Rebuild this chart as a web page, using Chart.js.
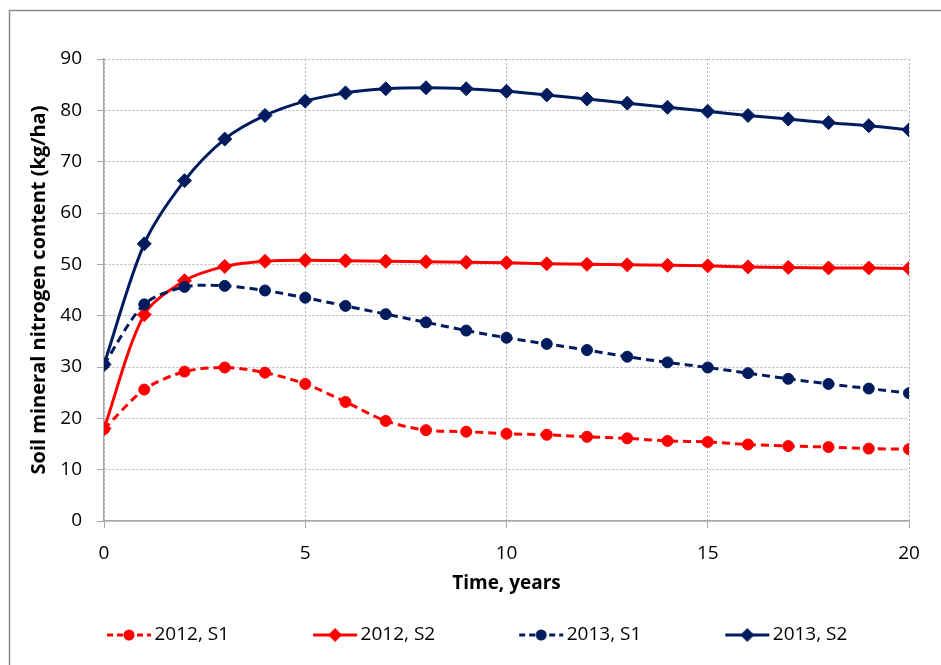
<!DOCTYPE html>
<html>
<head>
<meta charset="utf-8">
<script src="https://cdn.jsdelivr.net/npm/chart.js@4"></script>
<style>
  html, body { margin: 0; padding: 0; background: #fff; }
  canvas { display: block; }
</style>
</head>
<body>
<canvas id="myChart" width="941" height="665"></canvas>
<script>
const years = [0, 1, 2, 3, 4, 5, 6, 7, 8, 9, 10, 11, 12, 13, 14, 15, 16, 17, 18, 19, 20];
const s2012S1 = [17.9, 25.6, 29.1, 29.9, 28.9, 26.7, 23.2, 19.5, 17.7, 17.4, 17.0, 16.8, 16.4, 16.1, 15.6, 15.4, 14.9, 14.6, 14.4, 14.1, 14.0];
const s2012S2 = [18.0, 40.2, 46.8, 49.6, 50.6, 50.8, 50.7, 50.6, 50.5, 50.4, 50.3, 50.1, 50.0, 49.9, 49.8, 49.7, 49.5, 49.4, 49.3, 49.3, 49.2];
const s2013S1 = [30.5, 42.2, 45.6, 45.8, 44.9, 43.5, 41.9, 40.3, 38.7, 37.1, 35.7, 34.5, 33.3, 32.0, 30.9, 29.9, 28.8, 27.7, 26.7, 25.8, 24.9];
const s2013S2 = [30.5, 54.0, 66.3, 74.4, 79.0, 81.8, 83.4, 84.2, 84.4, 84.2, 83.7, 83.0, 82.2, 81.4, 80.6, 79.8, 79.0, 78.3, 77.6, 77.0, 76.2];
const seriesNames = ["2012, S1", "2012, S2", "2013, S1", "2013, S2"];
const xTicks = [0, 5, 10, 15, 20];
const yTicks = [0, 10, 20, 30, 40, 50, 60, 70, 80, 90];

const RED = "#ff0000";
const NAVY = "#001c5e";
const DASH = [8, 5];

// legend symbol: line with the marker in the middle, sitting at the right of a wide icon canvas
// (the empty left part gives the gap between legend entries)
function legendIcon(color, dashed, marker) {
  const c = document.createElement("canvas");
  c.width = 126;
  c.height = 16;
  const g = c.getContext("2d");
  const x0 = 80;
  g.strokeStyle = color;
  g.fillStyle = color;
  g.lineWidth = 3;
  g.setLineDash(dashed ? [6, 4] : []);
  g.beginPath();
  g.moveTo(x0 + 1, 8);
  g.lineTo(x0 + 45, 8);
  g.stroke();
  g.beginPath();
  if (marker === "circle") {
    g.arc(x0 + 23, 8, 5.5, 0, Math.PI * 2);
  } else {
    g.moveTo(x0 + 23, 1);
    g.lineTo(x0 + 30, 8);
    g.lineTo(x0 + 23, 15);
    g.lineTo(x0 + 16, 8);
    g.closePath();
  }
  g.fill();
  return c;
}

function series(name, values, color, dashed, marker) {
  return {
    label: name,
    data: years.map((x, i) => ({ x: x, y: values[i] })),
    borderColor: color,
    backgroundColor: color,
    borderWidth: 3,
    borderDash: dashed ? DASH : [],
    pointStyle: marker,
    pointRadius: marker === "circle" ? 5.5 : 7,
    pointBorderWidth: 1,
    pointBorderColor: color,
    pointBackgroundColor: color,
    tension: 0.3,
    fill: false,
    legendIcon: legendIcon(color, dashed, marker),
  };
}

// outer frame of the picture
const framePlugin = {
  id: "frame",
  beforeDraw(chart) {
    const c = chart.ctx;
    c.save();
    c.fillStyle = "#fff";
    c.fillRect(0, 0, chart.width, chart.height);
    c.strokeStyle = "#8c8c8c";
    c.lineWidth = 1.5;
    c.strokeRect(9.5, 10.5, 1000, 1000);
    c.restore();
  },
};

// later series drawn on top like in Excel, legend kept in original order
const datasets = [
  series(seriesNames[3], s2013S2, NAVY, false, "rectRot"),
  series(seriesNames[2], s2013S1, NAVY, true, "circle"),
  series(seriesNames[1], s2012S2, RED, false, "rectRot"),
  series(seriesNames[0], s2012S1, RED, true, "circle"),
];

const font = "'Open Sans', 'DejaVu Sans', sans-serif";

const ctx = document.getElementById("myChart").getContext("2d");
const myChart = new Chart(ctx, {
  type: "line",
  data: { datasets },
  plugins: [framePlugin],
  options: {
    responsive: false,
    animation: false,
    layout: { padding: { left: 23, right: 32, top: 59, bottom: 10.5 } },
    plugins: {
      tooltip: { enabled: false },
      legend: {
        position: "bottom",
        align: "start",
        reverse: true,
        labels: {
          usePointStyle: true,
          pointStyleWidth: 112,
          padding: 10,
          color: "#000",
          font: { family: font, size: 19 },
          generateLabels: (chart) =>
            chart.data.datasets.map((ds, i) => ({
              text: ds.label,
              pointStyle: ds.legendIcon,
              fillStyle: ds.borderColor,
              strokeStyle: ds.borderColor,
              lineWidth: 0,
              fontColor: "#000",
              datasetIndex: i,
            })),
        },
      },
    },
    scales: {
      x: {
        type: "linear",
        min: 0,
        max: 20,
        afterBuildTicks: (s) => { s.ticks = xTicks.map((v) => ({ value: v })); },
        afterFit: (s) => { s.height = 94.5; },
        grid: {
          color: "#b4b4b4",
          lineWidth: 1,
          tickLength: 7,
          tickColor: "#a6a6a6",
          tickBorderDash: [],
        },
        border: { color: "#a6a6a6", width: 1.5, dash: [2, 2] },
        ticks: { color: "#000", padding: 14, font: { family: font, size: 19 } },
        title: {
          display: true,
          text: "Time, years",
          color: "#000",
          padding: { top: 4, bottom: 21 },
          font: { family: font, size: 19, weight: "bold" },
        },
      },
      y: {
        min: 0,
        max: 90,
        afterBuildTicks: (s) => { s.ticks = yTicks.map((v) => ({ value: v })); },
        afterFit: (s) => { s.width = 81; },
        grid: {
          color: "#b4b4b4",
          lineWidth: 1,
          tickLength: 7,
          tickColor: "#a6a6a6",
          tickBorderDash: [],
        },
        border: { color: "#a6a6a6", width: 1.5, dash: [2, 2] },
        ticks: { color: "#000", padding: 15, font: { family: font, size: 19 } },
        title: {
          display: true,
          text: "Soil mineral nitrogen content (kg/ha)",
          color: "#000",
          padding: { top: 4, bottom: 4 },
          font: { family: font, size: 20, weight: "bold" },
        },
      },
    },
  },
});
</script>
</body>
</html>
